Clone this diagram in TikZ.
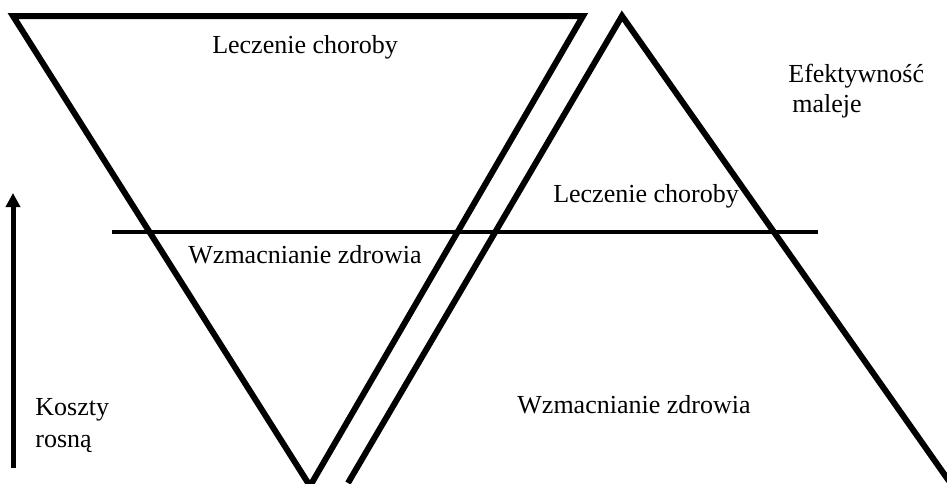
\documentclass[tikz,border=0pt]{standalone}
\usepackage{fontspec}
\setmainfont{Liberation Serif}
\usetikzlibrary{arrows.meta}

\begin{document}
\begin{tikzpicture}[x=0.5pt, y=-0.5pt,
    label/.style={font=\fontsize{13}{15}\selectfont, inner sep=0pt},
    edge/.style={line width=3pt}]
			\useasboundingbox (0,0) rectangle (947,483);
			\begin{scope}
			\clip (0,0) rectangle (947,483);
			\draw[edge] (13,16) -- (583,16) -- (310,486) -- cycle;
			\draw[edge] (348,483) -- (622,16) -- (949,481);
			\end{scope}
			\draw[line width=2pt] (112,232) -- (818,232);
			\draw[line width=2.5pt, -{Triangle[length=7pt,width=7pt]}] (13,468) -- (13,193);
			\node[label, anchor=base] (lecz1) at (305,53) {Leczenie choroby};
			\node[label, anchor=base] (lecz2) at (646,202) {Leczenie choroby};
			\node[label, anchor=base] (wzm1) at (305,263) {Wzmacnianie zdrowia};
			\node[label, anchor=base] (wzm2) at (634,413) {Wzmacnianie zdrowia};
			\node[label, anchor=base west] (efekt) at (788,82) {Efektywność};
			\node[label, anchor=base west] (maleje) at (792,112) {maleje};
			\node[label, anchor=base west] (koszty) at (35,415) {Koszty};
			\node[label, anchor=base west] (rosna) at (35,447) {rosną};
		\end{tikzpicture}
\end{document}
